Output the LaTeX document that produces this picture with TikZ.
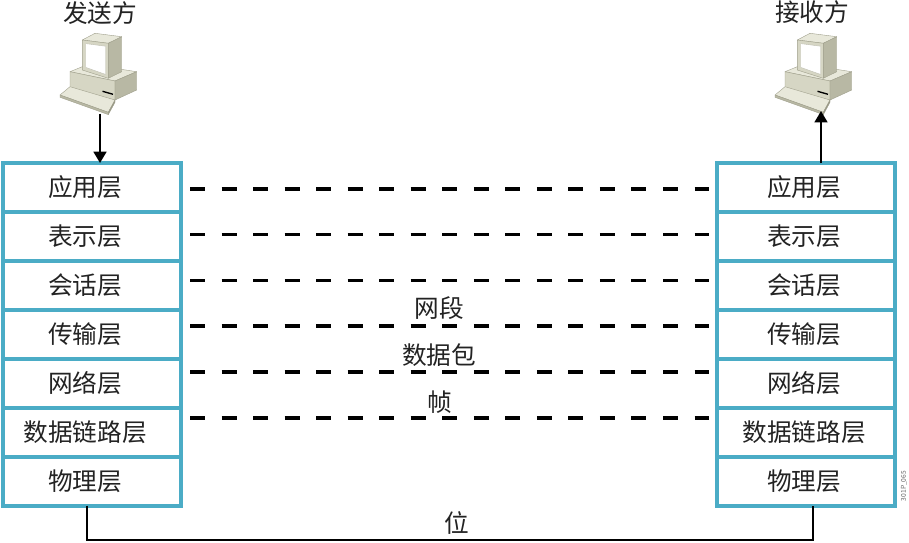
\documentclass[tikz,border=0pt]{standalone}
\usepackage{fontspec}
\setmainfont{Noto Sans CJK SC}
\usetikzlibrary{arrows.meta}
\definecolor{stackblue}{RGB}{75,172,198}
\definecolor{txt}{RGB}{35,35,35}
\definecolor{pctop}{RGB}{232,232,218}
\definecolor{pcfront}{RGB}{214,214,196}
\definecolor{pcside}{RGB}{184,184,164}
\definecolor{pcedge}{RGB}{160,160,140}
\tikzset{
  layer/.style={draw=stackblue, line width=3pt, fill=white, minimum width=133.5pt,
    minimum height=36.7pt, inner sep=0pt, outer sep=0pt},
  lbl/.style={text=txt, inner sep=0pt, font=\fontsize{18.5pt}{20pt}\selectfont},
  dashline/.style={line width=2.6pt, dash pattern=on 11.25pt off 12.4pt, black},
  wire/.style={line width=2.2pt, black},
  arr/.style={line width=1.8pt, black, -{Triangle[length=8.5pt,width=9.5pt]}},
  pcpart/.style={draw=pcedge, line width=0.3pt, line join=round},
  pics/computer/.style={code={
    % base unit
    \fill[pcpart, fill=pctop] (70,71.7) -- (88.3,64.3) -- (136.7,71.7) -- (115,81) -- cycle;
    \fill[pcpart, fill=pcfront] (70,71.7) -- (115,81) -- (115,100) -- (70,90) -- cycle;
    \fill[pcpart, fill=pcside] (115,81) -- (136.7,71.7) -- (136.7,90) -- (115,100) -- cycle;
    \draw[line width=1pt, black] (102.5,91.3) -- (113,94.3);
    % keyboard
    \fill[pcpart, fill=pctop] (70,86.7) -- (115,100) -- (108.3,112.3) -- (60,95) -- cycle;
    \fill[pcpart, fill=pcside] (60,95) -- (108.3,112.3) -- (108.3,114.6) -- (60,97.3) -- cycle;
    \fill[pcpart, fill=pcside!80!black] (108.3,112.3) -- (115,100) -- (115,102.3) -- (108.3,114.6) -- cycle;
    % monitor
    \fill[pcpart, fill=pctop] (82.3,40) -- (95,33.3) -- (121.7,36.7) -- (108.3,43.3) -- cycle;
    \fill[pcpart, fill=pcfront] (82.3,40) -- (108.3,43.3) -- (108.3,78.3) -- (82.3,70) -- cycle;
    \fill[pcpart, fill=pcside] (108.3,43.3) -- (121.7,36.7) -- (121.7,71.7) -- (108.3,78.3) -- cycle;
    \fill[draw=pcedge!70, line width=0.3pt, fill=white] (85.7,43.6) -- (105.5,46.2) -- (105.5,74.4) -- (85.7,67.4) -- cycle;
  }}
}
\begin{document}
\begin{tikzpicture}[x=0.75pt, y=-0.75pt]
\useasboundingbox (0,0) rectangle (909,542);
\fill[white] (0,0) rectangle (909,542);

% computers
\pic at (0,0) {computer};
\pic at (715,0) {computer};
\node[lbl] (send) at (100,13) {发送方};
\node[lbl] (recv) at (812,12.5) {接收方};

% stacks
\foreach \n/\t [count=\k from 0] in {1/应用层,2/表示层,3/会话层,4/传输层,5/网络层,6/数据链路层,7/物理层}{
  \node[layer] (L\n) at (92,{187.5+48.93*\k}) {};
  \node[layer] (R\n) at (805.5,{187.5+48.93*\k}) {};
  \node[lbl] (L\n t) at (85,{187.5+48.93*\k}) {\t};
  \node[lbl] (R\n t) at (804,{187.5+48.93*\k}) {\t};
}

% arrows between computers and stacks
\coordinate (pcL) at (100,113.5);
\coordinate (pcR) at (821,111);
\draw[arr] (pcL) -- (pcL |- L1.north);
\draw[arr] (pcR |- R1.north) -- (pcR);

% dashed peer lines
\foreach \n/\yy in {a/189,b/234.7,c/280.5,d/326,e/372,f/418}{
  \coordinate (dL\n) at (190,\yy);
  \coordinate (dR\n) at (709,\yy);
  \draw[dashline] (dL\n) -- (dR\n);
}

% labels
\node[lbl] (seg) at (439,308) {网段};
\node[lbl] (pkt) at (439,355.5) {数据包};
\node[lbl] (frm) at (440,402) {帧};
\node[lbl] (bit) at (457,523) {位};

% physical wire
\coordinate (bL) at (87,540);
\coordinate (bR) at (813,540);
\draw[wire, line join=miter] (L7.south -| bL) -- (bL) -- (bR) -- (R7.south -| bR);

% figure code
\node[text=black!60, rotate=90, inner sep=0pt, font=\fontsize{5pt}{6pt}\selectfont] (code) at (904,486) {301P\_065};
\end{tikzpicture}
\end{document}
